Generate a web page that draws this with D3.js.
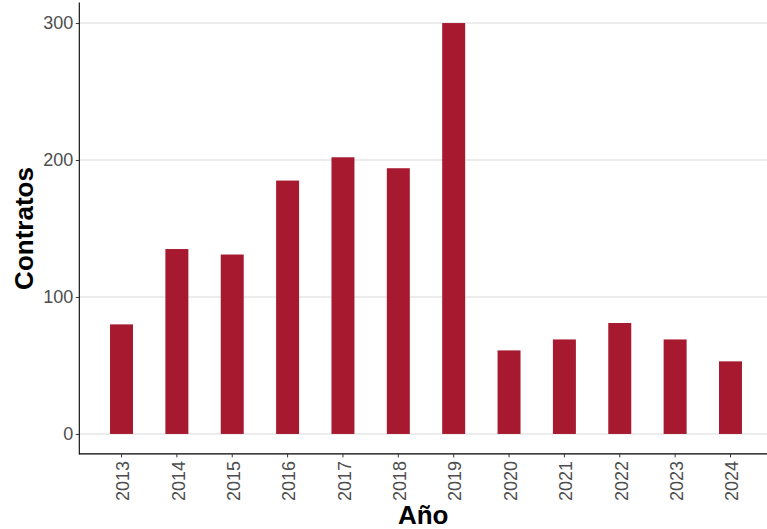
<!DOCTYPE html>
<html>
<head>
<meta charset="utf-8">
<script src="https://cdn.jsdelivr.net/npm/d3@7"></script>
<style>
  html, body { margin: 0; padding: 0; background: #fff; }
  svg { display: block; font-family: 'Liberation Sans', Arial, sans-serif; }
</style>
</head>
<body>
<div id="chart"></div>
<script>
// Contratos por año
const years = ['2013', '2014', '2015', '2016', '2017', '2018', '2019', '2020', '2021', '2022', '2023', '2024']
const contratos = [80, 135, 131, 185, 202, 194, 300, 61, 69, 81, 69, 53]
const yTicks = [0, 100, 200, 300]

const width = 767
const height = 529
const panel = { left: 79.3, right: 772.7, top: 2.5, bottom: 454.5 }
const barColor = '#a6192e'

const data = years.map((year, i) => ({ year, value: contratos[i] }))

const svg = d3.select('#chart')
  .append('svg')
  .attr('width', width)
  .attr('height', height)

const x = d3.scaleBand()
  .domain(years)
  .range([panel.left, panel.right])
  .paddingInner(0.585)
  .paddingOuter(0.555)

const y = d3.scaleLinear()
  .domain([-15, 315])
  .range([panel.bottom, panel.top])

// gridlines
svg.append('g')
  .selectAll('line')
  .data(yTicks)
  .join('line')
  .attr('x1', panel.left)
  .attr('x2', width)
  .attr('y1', d => y(d))
  .attr('y2', d => y(d))
  .attr('stroke', '#d9d9d9')
  .attr('stroke-width', 1.1)

// bars
svg.append('g')
  .selectAll('rect')
  .data(data)
  .join('rect')
  .attr('x', d => x(d.year))
  .attr('width', x.bandwidth())
  .attr('y', d => y(d.value))
  .attr('height', d => y(0) - y(d.value))
  .attr('fill', barColor)

// y axis
const yAxis = svg.append('g')
  .attr('transform', `translate(${panel.left}, 0)`)
  .call(d3.axisLeft(y).tickValues(yTicks).tickSize(3.5).tickPadding(2.5))
yAxis.select('.domain')
  .attr('d', `M0,${panel.top}V${panel.bottom}`)
  .attr('stroke', '#000')
  .attr('stroke-width', 1.1)
yAxis.selectAll('.tick line').attr('stroke', '#333')
yAxis.selectAll('.tick text')
  .attr('fill', '#4d4d4d')
  .style('font-size', '18px')

// x axis
const xAxis = svg.append('g')
  .attr('transform', `translate(0, ${panel.bottom - 0.6})`)
  .call(d3.axisBottom(x).tickSize(3.5).tickPadding(4))
xAxis.select('.domain')
  .attr('d', `M${panel.left},0H${width}`)
  .attr('stroke', '#000')
  .attr('stroke-width', 1.1)
xAxis.selectAll('.tick line').attr('stroke', '#333')
xAxis.selectAll('.tick text')
  .attr('fill', '#4d4d4d')
  .style('font-size', '18px')
  .attr('text-anchor', 'end')
  .attr('transform', 'rotate(-90)')
  .attr('x', -7)
  .attr('y', 0)
  .attr('dy', '0.43em')

// axis titles
svg.append('text')
  .attr('x', (panel.left + width) / 2)
  .attr('y', 524)
  .attr('text-anchor', 'middle')
  .style('font-size', '26px')
  .style('font-weight', 'bold')
  .text('Año')

svg.append('text')
  .attr('transform', `translate(33, ${(panel.top + panel.bottom) / 2}) rotate(-90)`)
  .attr('text-anchor', 'middle')
  .style('font-size', '26px')
  .style('font-weight', 'bold')
  .text('Contratos')
</script>
</body>
</html>
